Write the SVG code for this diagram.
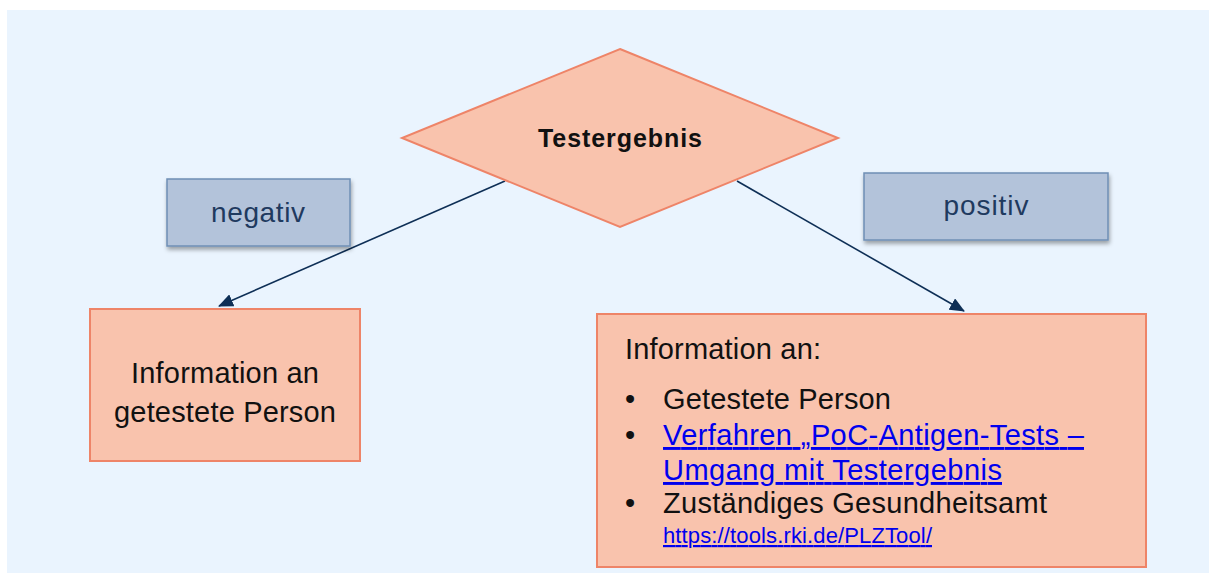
<svg xmlns="http://www.w3.org/2000/svg" width="1209" height="573" viewBox="0 0 1209 573">
<defs>
<style>
.node{fill:#F9C3AD;stroke:#EE8468;stroke-width:2}
.lbl{fill:#B3C3DA;stroke:#6F8FB5;stroke-width:1.5}
.t{font-family:"Liberation Sans",Arial,sans-serif;fill:#111}
.lt{font-family:"Liberation Sans",Arial,sans-serif;fill:#1F3A5F;font-size:28px}
.link{fill:#0000EE;text-decoration:underline}
.conn{stroke:#0E2F56;stroke-width:1.6;fill:none}
</style>
<marker id="ah" markerWidth="15" markerHeight="13" refX="14" refY="6.5" orient="auto" markerUnits="userSpaceOnUse" viewBox="0 0 15 13">
<path d="M0,0 L15,6.5 L0,13 z" fill="#0E2F56"/>
</marker>
<filter id="sh" x="-10%" y="-10%" width="130%" height="140%">
<feDropShadow dx="1" dy="3" stdDeviation="2" flood-color="#000" flood-opacity="0.35"/>
</filter>
</defs>
<rect x="7" y="10" width="1202" height="563" fill="#EAF4FE"/>
<g id="connectors">
<line class="conn" x1="505" y1="181" x2="219" y2="306" marker-end="url(#ah)"/>
<line class="conn" x1="737" y1="181" x2="964" y2="311" marker-end="url(#ah)"/>
</g>
<g id="decision">
<polygon class="node" points="620,49 838,138 620,227 402,138"/>
<text class="t" x="620" y="147" font-size="25" font-weight="bold" text-anchor="middle" textLength="164">Testergebnis</text>
</g>
<g id="label-negativ">
<rect class="lbl" x="167" y="179" width="183" height="67" filter="url(#sh)"/>
<text class="lt" x="258" y="222" text-anchor="middle" textLength="94">negativ</text>
</g>
<g id="label-positiv">
<rect class="lbl" x="864" y="173" width="244" height="67" filter="url(#sh)"/>
<text class="lt" x="986" y="215" text-anchor="middle" textLength="85">positiv</text>
</g>
<g id="neg-result">
<rect class="node" x="90" y="309" width="270" height="152"/>
<text class="t" font-size="29" text-anchor="middle"><tspan x="225" y="383" textLength="188">Information an</tspan><tspan x="225" y="422" textLength="222">getestete Person</tspan></text>
</g>
<g id="pos-result">
<rect class="node" x="597" y="314" width="549" height="253"/>
<text class="t" x="625" y="359" font-size="29" textLength="196">Information an:</text>
<g class="t" font-size="29">
<text x="625" y="409">•</text>
<text x="663" y="409" textLength="228">Getestete Person</text>
<text x="625" y="445">•</text>
<text x="663" y="445" class="link" textLength="421">Verfahren „PoC-Antigen-Tests –</text>
<text x="663" y="480" class="link" textLength="339">Umgang mit Testergebnis</text>
<text x="625" y="513">•</text>
<text x="663" y="513" textLength="384">Zuständiges Gesundheitsamt</text>
<text x="663" y="543" font-size="22" class="link" textLength="269">https://tools.rki.de/PLZTool/</text>
</g>
</g>
</svg>
